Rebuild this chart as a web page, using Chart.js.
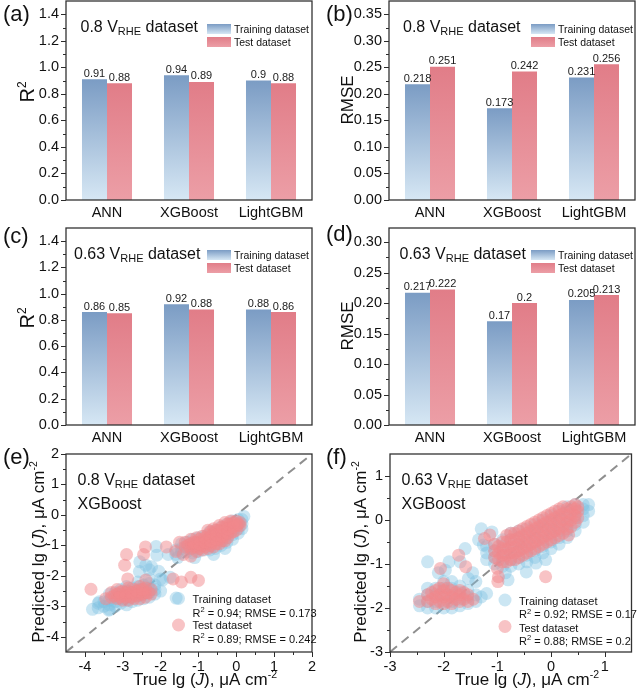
<!DOCTYPE html>
<html><head><meta charset="utf-8">
<script src="https://cdn.jsdelivr.net/npm/chart.js@4.4.0/dist/chart.umd.min.js"></script>
<style>
html,body{margin:0;padding:0;background:#fff;width:638px;height:692px;overflow:hidden}
canvas{position:absolute;left:0;top:0}
</style></head><body>
<canvas id="ca" width="638" height="692"></canvas>
<canvas id="cb" width="638" height="692"></canvas>
<canvas id="cc" width="638" height="692"></canvas>
<canvas id="cd" width="638" height="692"></canvas>
<canvas id="ce" width="638" height="692"></canvas>
<canvas id="cf" width="638" height="692"></canvas>
<script>
// ---------------- DATA ----------------
const models = ['ANN', 'XGBoost', 'LightGBM'];
const r2Train08 = [0.91, 0.94, 0.9];
const r2Test08 = [0.88, 0.89, 0.88];
const rmseTrain08 = [0.218, 0.173, 0.231];
const rmseTest08 = [0.251, 0.242, 0.256];
const r2Train063 = [0.86, 0.92, 0.88];
const r2Test063 = [0.85, 0.88, 0.86];
const rmseTrain063 = [0.217, 0.17, 0.205];
const rmseTest063 = [0.222, 0.2, 0.213];

const r2Ticks = [0, 0.2, 0.4, 0.6, 0.8, 1.0, 1.2, 1.4];
const rmseTicks08 = [0, 0.05, 0.10, 0.15, 0.20, 0.25, 0.30, 0.35];
const rmseTicks063 = [0, 0.05, 0.10, 0.15, 0.20, 0.25, 0.30];
const scatterTicks08 = [-4, -3, -2, -1, 0, 1, 2];
const scatterTicks063 = [-3, -2, -1, 0, 1];

const trainPts08 = [
 [-1.6,-1.3],[-1.6,-1.15],
 [-1.45,-1.25],[-1.45,-1.1],[-1.45,-0.95],
 [-1.3,-1.2],[-1.3,-1.05],[-1.3,-0.9],
 [-1.15,-1.25],[-1.15,-1.1],[-1.15,-0.95],[-1.15,-0.8],
 [-1.0,-1.2],[-1.0,-1.05],[-1.0,-0.9],[-1.0,-0.75],
 [-0.85,-1.15],[-0.85,-1.0],[-0.85,-0.85],[-0.85,-0.7],
 [-0.7,-1.15],[-0.7,-1.0],[-0.7,-0.85],[-0.7,-0.7],[-0.7,-0.55],
 [-0.55,-1.1],[-0.55,-0.95],[-0.55,-0.8],[-0.55,-0.65],[-0.55,-0.5],
 [-0.4,-1.0],[-0.4,-0.85],[-0.4,-0.7],[-0.4,-0.55],[-0.4,-0.4],
 [-0.25,-0.9],[-0.25,-0.75],[-0.25,-0.6],[-0.25,-0.45],[-0.25,-0.3],
 [-0.1,-0.8],[-0.1,-0.65],[-0.1,-0.5],[-0.1,-0.35],[-0.1,-0.2],
 [0.05,-0.6],[0.05,-0.45],[0.05,-0.3],[0.05,-0.15],
 [0.15,-0.45],[0.15,-0.3],[0.15,-0.15],
 [-0.3,-1.1],[-0.6,-1.3],[-1.1,-1.4],[0.2,-0.05],[-1.8,-1.3],[-1.55,-1.4],
 [-2.12,-1.04],[-2.39,-1.65],[-2.3,-1.8],[-2.56,-1.86],[-2.24,-1.7],[-2.55,-1.54],
 [-2.1,-1.32],[-1.95,-2.14],[-2.0,-2.5],[-1.59,-2.73],[-1.75,-2.05],[-2.05,-1.85],
 [-3.65,-3.05],[-3.65,-2.9],
 [-3.5,-3.0],[-3.5,-2.85],
 [-3.35,-3.1],[-3.35,-2.95],[-3.35,-2.8],[-3.35,-2.6],
 [-3.2,-3.0],[-3.2,-2.85],[-3.2,-2.7],[-3.2,-2.55],
 [-3.05,-2.9],[-3.05,-2.75],[-3.05,-2.6],[-3.05,-2.45],
 [-2.9,-2.95],[-2.9,-2.8],[-2.9,-2.65],[-2.9,-2.5],[-2.9,-2.35],
 [-2.75,-2.85],[-2.75,-2.7],[-2.75,-2.55],[-2.75,-2.4],
 [-2.6,-2.8],[-2.6,-2.65],[-2.6,-2.5],[-2.6,-2.35],[-2.6,-2.2],
 [-2.45,-2.75],[-2.45,-2.6],[-2.45,-2.45],[-2.45,-2.3],
 [-2.3,-2.7],[-2.3,-2.55],[-2.3,-2.4],[-2.3,-2.25],[-2.3,-2.1],
 [-2.15,-2.6],[-2.15,-2.45],[-2.15,-2.3],
 [-3.37,-3.13],[-3.62,-2.85],[-3.8,-3.1],[-2.0,-2.1]
];
const testPts08 = [
 [-1.35,-1.05],[-1.35,-0.9],
 [-1.2,-1.1],[-1.2,-0.95],[-1.2,-0.8],
 [-1.05,-1.2],[-1.05,-1.05],[-1.05,-0.9],[-1.05,-0.75],
 [-0.9,-1.15],[-0.9,-1.0],[-0.9,-0.85],[-0.9,-0.7],
 [-0.75,-1.1],[-0.75,-0.95],[-0.75,-0.8],[-0.75,-0.65],[-0.75,-0.5],
 [-0.6,-1.05],[-0.6,-0.9],[-0.6,-0.75],[-0.6,-0.6],[-0.6,-0.45],
 [-0.45,-0.95],[-0.45,-0.8],[-0.45,-0.65],[-0.45,-0.5],[-0.45,-0.35],
 [-0.3,-0.85],[-0.3,-0.7],[-0.3,-0.55],[-0.3,-0.4],[-0.3,-0.25],
 [-0.15,-0.6],[-0.15,-0.45],[-0.15,-0.3],[-0.15,-0.2],
 [0.0,-0.5],[0.0,-0.35],[0.0,-0.2],
 [0.1,-0.35],[0.1,-0.25],
 [-1.275,-1.0],[-1.125,-1.05],[-1.125,-0.9],[-0.975,-1.1],[-0.975,-0.95],[-0.975,-0.8],
 [-0.825,-1.05],[-0.825,-0.9],[-0.825,-0.75],[-0.675,-1.0],[-0.675,-0.85],[-0.675,-0.7],[-0.675,-0.55],
 [-0.525,-0.95],[-0.525,-0.8],[-0.525,-0.65],[-0.525,-0.5],[-0.375,-0.85],[-0.375,-0.7],[-0.375,-0.55],[-0.375,-0.4],
 [-0.225,-0.75],[-0.225,-0.6],[-0.225,-0.45],[-0.225,-0.3],[-0.075,-0.55],[-0.075,-0.4],[-0.075,-0.25],[0.05,-0.3],
 [-1.85,-1.05],[-1.6,-1.2],[-1.5,-0.9],[-1.4,-1.3],[-1.2,-1.35],
 [-2.9,-1.3],[-2.45,-1.3],[-2.95,-1.65],[-2.4,-1.05],[-2.39,-2.14],[-2.87,-2.1],
 [-1.67,-2.1],[-1.45,-2.2],[-1.2,-2.05],[-1.0,-2.15],[-3.84,-2.44],
 [-3.3,-2.7],[-3.3,-2.55],
 [-3.15,-2.75],[-3.15,-2.6],[-3.15,-2.45],
 [-3.0,-2.8],[-3.0,-2.65],[-3.0,-2.5],
 [-2.85,-2.8],[-2.85,-2.65],[-2.85,-2.5],[-2.85,-2.4],
 [-2.7,-2.75],[-2.7,-2.6],[-2.7,-2.45],
 [-2.55,-2.75],[-2.55,-2.6],[-2.55,-2.45],[-2.55,-2.35],
 [-2.4,-2.7],[-2.4,-2.55],[-2.4,-2.4],
 [-2.25,-2.6],[-2.25,-2.45],
 [-3.225,-2.65],[-3.075,-2.7],[-3.075,-2.55],[-2.925,-2.7],[-2.925,-2.55],[-2.775,-2.7],[-2.775,-2.55],
 [-2.625,-2.65],[-2.625,-2.5],[-2.475,-2.6],[-2.475,-2.45],[-2.325,-2.55],
 [-3.45,-2.75]
];
const trainPts063 = [
 [-1.2,-0.9],[-1.2,-0.75],[-1.2,-0.6],
 [-1.05,-1.0],[-1.05,-0.85],[-1.05,-0.7],[-1.05,-0.55],
 [-0.9,-1.05],[-0.9,-0.9],[-0.9,-0.75],[-0.9,-0.6],[-0.9,-0.45],
 [-0.75,-1.05],[-0.75,-0.9],[-0.75,-0.75],[-0.75,-0.6],[-0.75,-0.45],[-0.75,-0.3],
 [-0.6,-1.0],[-0.6,-0.85],[-0.6,-0.7],[-0.6,-0.55],[-0.6,-0.4],[-0.6,-0.25],
 [-0.45,-0.95],[-0.45,-0.8],[-0.45,-0.65],[-0.45,-0.5],[-0.45,-0.35],[-0.45,-0.2],
 [-0.3,-0.85],[-0.3,-0.7],[-0.3,-0.55],[-0.3,-0.4],[-0.3,-0.25],[-0.3,-0.1],
 [-0.15,-0.75],[-0.15,-0.6],[-0.15,-0.45],[-0.15,-0.3],[-0.15,-0.15],[-0.15,0.0],
 [0.0,-0.65],[0.0,-0.5],[0.0,-0.35],[0.0,-0.2],[0.0,-0.05],[0.0,0.1],
 [0.15,-0.55],[0.15,-0.4],[0.15,-0.25],[0.15,-0.1],[0.15,0.05],[0.15,0.2],
 [0.3,-0.4],[0.3,-0.25],[0.3,-0.1],[0.3,0.05],[0.3,0.2],[0.3,0.3],
 [0.45,-0.25],[0.45,-0.1],[0.45,0.05],[0.45,0.2],[0.45,0.35],
 [0.6,-0.05],[0.6,0.1],[0.6,0.25],[0.6,0.35],
 [0.7,0.2],[0.7,0.35],
 [-2.3,-0.95],[-1.97,-1.14],[-1.69,-0.95],[-1.54,-1.33],[-1.26,-0.57],[-1.2,-1.67],
 [-0.85,-1.2],[-0.28,-0.98],[-1.1,-0.27],[-1.35,-0.45],[-1.46,-1.2],[-0.46,-1.18],
 [-0.8,-1.36],[-1.9,-0.95],[-1.6,-0.65],[-2.1,-1.2],[-1.4,-1.4],[-0.1,-0.9],[-1.3,-0.2],
 [-2.45,-1.95],[-2.45,-1.8],
 [-2.3,-2.0],[-2.3,-1.85],[-2.3,-1.7],[-2.3,-1.55],
 [-2.15,-2.0],[-2.15,-1.85],[-2.15,-1.7],[-2.15,-1.55],
 [-2.0,-2.0],[-2.0,-1.85],[-2.0,-1.7],[-2.0,-1.55],[-2.0,-1.4],
 [-1.85,-2.0],[-1.85,-1.85],[-1.85,-1.7],[-1.85,-1.55],[-1.85,-1.4],
 [-1.7,-1.95],[-1.7,-1.8],[-1.7,-1.65],[-1.7,-1.5],
 [-1.55,-1.9],[-1.55,-1.75],[-1.55,-1.6],
 [-1.4,-1.85],[-1.4,-1.7],
 [-1.3,-1.75]
];
const testPts063 = [
 [-1.05,-0.85],[-1.05,-0.7],[-1.05,-0.55],
 [-0.9,-0.95],[-0.9,-0.8],[-0.9,-0.65],[-0.9,-0.5],
 [-0.75,-0.9],[-0.75,-0.75],[-0.75,-0.6],[-0.75,-0.45],[-0.75,-0.3],
 [-0.6,-0.85],[-0.6,-0.7],[-0.6,-0.55],[-0.6,-0.4],[-0.6,-0.25],
 [-0.45,-0.75],[-0.45,-0.6],[-0.45,-0.45],[-0.45,-0.3],[-0.45,-0.15],
 [-0.3,-0.65],[-0.3,-0.5],[-0.3,-0.35],[-0.3,-0.2],[-0.3,-0.05],
 [-0.15,-0.55],[-0.15,-0.4],[-0.15,-0.25],[-0.15,-0.1],[-0.15,0.05],
 [0.0,-0.45],[0.0,-0.3],[0.0,-0.15],[0.0,0.0],[0.0,0.15],
 [0.15,-0.35],[0.15,-0.2],[0.15,-0.05],[0.15,0.1],[0.15,0.25],
 [0.3,-0.2],[0.3,-0.05],[0.3,0.1],[0.3,0.25],
 [0.45,-0.05],[0.45,0.1],[0.45,0.25],[0.45,0.35],
 [-0.975,-0.9],[-0.975,-0.75],[-0.975,-0.6],
 [-0.825,-0.95],[-0.825,-0.8],[-0.825,-0.65],[-0.825,-0.5],[-0.825,-0.35],
 [-0.675,-0.9],[-0.675,-0.75],[-0.675,-0.6],[-0.675,-0.45],[-0.675,-0.3],
 [-0.525,-0.8],[-0.525,-0.65],[-0.525,-0.5],[-0.525,-0.35],[-0.525,-0.2],
 [-0.375,-0.7],[-0.375,-0.55],[-0.375,-0.4],[-0.375,-0.25],[-0.375,-0.1],
 [-0.225,-0.6],[-0.225,-0.45],[-0.225,-0.3],[-0.225,-0.15],[-0.225,0.0],
 [-0.075,-0.5],[-0.075,-0.35],[-0.075,-0.2],[-0.075,-0.05],[-0.075,0.1],
 [0.075,-0.4],[0.075,-0.25],[0.075,-0.1],[0.075,0.05],[0.075,0.2],
 [0.225,-0.3],[0.225,-0.15],[0.225,0.0],[0.225,0.15],[0.225,0.3],
 [0.375,-0.15],[0.375,0.0],[0.375,0.15],[0.375,0.3],
 [0.5,0.05],[0.5,0.2],[0.5,0.3],
 [-1.14,-0.34],[-1.72,-0.8],[-1.59,-1.06],[-0.99,-1.4],[-0.98,-1.29],[0.33,-0.34],
 [-0.1,-1.29],[-1.24,-0.42],[-2.06,-1.1],[-1.0,-1.1],
 [-2.3,-1.85],[-2.3,-1.7],
 [-2.15,-1.9],[-2.15,-1.75],[-2.15,-1.6],
 [-2.0,-1.9],[-2.0,-1.75],[-2.0,-1.6],[-2.0,-1.45],
 [-1.85,-1.9],[-1.85,-1.75],[-1.85,-1.6],
 [-1.7,-1.85],[-1.7,-1.7],[-1.7,-1.6],
 [-1.55,-1.85],[-1.55,-1.7],
 [-2.225,-1.8],[-2.225,-1.65],[-2.075,-1.85],[-2.075,-1.7],[-2.075,-1.55],
 [-1.925,-1.85],[-1.925,-1.7],[-1.925,-1.55],[-1.775,-1.8],[-1.775,-1.65],
 [-1.625,-1.8],[-1.625,-1.65],
 [-2.45,-1.85],[-1.45,-1.8]
];

// ---------------- STYLE / LAYOUT ----------------
const FONT = '"Liberation Sans", Arial, Helvetica, sans-serif';
const W = 638, H = 692;
const TICKCOL = '#2b2b2b';
const TRAIN_TOP = '#7b9cc4', TRAIN_BOT = '#d6e7f4';
const TEST_TOP = '#e17d88', TEST_BOT = '#ec9ea6';
const TRAIN_PT = 'rgba(125,192,225,0.40)';
const TEST_PT = 'rgba(242,135,140,0.50)';

const deco = {};

function fnt(p) { return (p.italic ? 'italic ' : '') + p.size + 'px ' + FONT; }
function richWidth(ctx, parts) {
  let w = 0;
  for (const p of parts) { ctx.font = fnt(p); w += ctx.measureText(p.t).width; }
  return w;
}
function drawRich(ctx, parts, x, y, align) {
  let cx = align === 'center' ? x - richWidth(ctx, parts) / 2 : x;
  ctx.textAlign = 'left';
  ctx.textBaseline = 'alphabetic';
  for (const p of parts) {
    ctx.font = fnt(p);
    ctx.fillText(p.t, cx, y + (p.dy || 0));
    cx += ctx.measureText(p.t).width;
  }
}
function drawRotated(ctx, parts, cx, cy, size) {
  ctx.save();
  ctx.translate(cx, cy);
  ctx.rotate(-Math.PI / 2);
  drawRich(ctx, parts, 0, size * 0.36, 'center');
  ctx.restore();
}
function vTitle(v) {
  return [{t: v + ' V', size: 16}, {t: 'RHE', size: 11, dy: 3.5}, {t: ' dataset', size: 16}];
}

const decoPlugin = {
  id: 'deco',
  beforeDatasetsDraw(chart) {
    const d = deco[chart.canvas.id];
    if (!d || !d.diag) return;
    const ctx = chart.ctx, xs = chart.scales.x, ys = chart.scales.y;
    const a = d.diag[0], b = d.diag[1];
    ctx.save();
    ctx.beginPath();
    ctx.rect(chart.chartArea.left, chart.chartArea.top, chart.chartArea.width, chart.chartArea.height);
    ctx.clip();
    ctx.strokeStyle = '#8f8f8f';
    ctx.lineWidth = 2;
    ctx.setLineDash([9, 6]);
    ctx.beginPath();
    ctx.moveTo(xs.getPixelForValue(a), ys.getPixelForValue(a));
    ctx.lineTo(xs.getPixelForValue(b), ys.getPixelForValue(b));
    ctx.stroke();
    ctx.restore();
  },
  afterDatasetsDraw(chart) {
    const d = deco[chart.canvas.id];
    if (!d || !d.barLabels) return;
    const ctx = chart.ctx;
    ctx.save();
    ctx.fillStyle = '#1a1a1a';
    ctx.font = '11px ' + FONT;
    ctx.textAlign = 'center';
    ctx.textBaseline = 'alphabetic';
    chart.data.datasets.forEach((ds, di) => {
      const meta = chart.getDatasetMeta(di);
      meta.data.forEach((el, i) => {
        ctx.fillText(String(ds.data[i]), el.x, el.y - 2.5);
      });
    });
    ctx.restore();
  },
  afterDraw(chart) {
    const d = deco[chart.canvas.id];
    if (!d) return;
    const ctx = chart.ctx, A = chart.chartArea, xs = chart.scales.x, ys = chart.scales.y;
    ctx.save();
    ctx.strokeStyle = TICKCOL;
    ctx.lineWidth = 1;
    ctx.beginPath();
    const yT = d.yTicks;
    for (let i = 0; i < yT.length; i++) {
      const py = Math.round(ys.getPixelForValue(yT[i])) + 0.5;
      ctx.moveTo(A.left - 5, py); ctx.lineTo(A.left, py);
      if (i < yT.length - 1 || d.yMinorAfter) {
        const mv = i < yT.length - 1 ? (yT[i] + yT[i + 1]) / 2 : yT[i] + (yT[1] - yT[0]) / 2;
        const pm = Math.round(ys.getPixelForValue(mv)) + 0.5;
        if (pm > A.top + 1) { ctx.moveTo(A.left - 3, pm); ctx.lineTo(A.left, pm); }
      }
    }
    if (d.xTicks) {
      const xT = d.xTicks;
      for (let i = 0; i < xT.length; i++) {
        const px = Math.round(xs.getPixelForValue(xT[i])) + 0.5;
        ctx.moveTo(px, A.bottom); ctx.lineTo(px, A.bottom + 5);
        if (i < xT.length - 1 || d.xMinorAfter) {
          const mv = i < xT.length - 1 ? (xT[i] + xT[i + 1]) / 2 : xT[i] + (xT[1] - xT[0]) / 2;
          const pm = Math.round(xs.getPixelForValue(mv)) + 0.5;
          if (pm < A.right - 1) { ctx.moveTo(pm, A.bottom); ctx.lineTo(pm, A.bottom + 3); }
        }
      }
      if (d.xMinorBefore) {
        const mv = xT[0] - (xT[1] - xT[0]) / 2;
        const pm = Math.round(xs.getPixelForValue(mv)) + 0.5;
        if (pm > A.left + 1) { ctx.moveTo(pm, A.bottom); ctx.lineTo(pm, A.bottom + 3); }
      }
    }
    if (d.yMinorBefore) {
      const mv = yT[0] - (yT[1] - yT[0]) / 2;
      const pm = Math.round(ys.getPixelForValue(mv)) + 0.5;
      if (pm < A.bottom - 1) { ctx.moveTo(A.left - 3, pm); ctx.lineTo(A.left, pm); }
    }
    ctx.stroke();
    ctx.strokeStyle = '#333';
    ctx.lineWidth = 1.3;
    ctx.strokeRect(A.left, A.top, A.right - A.left, A.bottom - A.top);
    ctx.fillStyle = '#111';
    ctx.font = '22px ' + FONT;
    ctx.textAlign = 'left';
    ctx.textBaseline = 'middle';
    ctx.fillText(d.panel[0], d.panel[1], d.panel[2]);
    for (const t of d.texts) drawRich(ctx, t.parts, t.x, t.y, 'left');
    drawRotated(ctx, d.yTitle.parts, d.yTitle.x, d.yTitle.y, d.yTitle.size);
    if (d.xTitle) drawRich(ctx, d.xTitle.parts, d.xTitle.x, d.xTitle.y, 'center');
    if (d.barLegend) {
      const L = d.barLegend;
      let g = ctx.createLinearGradient(0, L.y1, 0, L.y1 + 10);
      g.addColorStop(0, TRAIN_TOP); g.addColorStop(1, TRAIN_BOT);
      ctx.fillStyle = g;
      ctx.fillRect(L.x, L.y1, 24, 10);
      g = ctx.createLinearGradient(0, L.y2, 0, L.y2 + 10);
      g.addColorStop(0, TEST_TOP); g.addColorStop(1, TEST_BOT);
      ctx.fillStyle = g;
      ctx.fillRect(L.x, L.y2, 24, 10);
      ctx.fillStyle = '#111';
      drawRich(ctx, [{t: 'Training dataset', size: 10.5}], L.x + 27, L.y1 + 9, 'left');
      drawRich(ctx, [{t: 'Test dataset', size: 10.5}], L.x + 27, L.y2 + 9, 'left');
    }
    if (d.ptLegend) {
      const L = d.ptLegend;
      ctx.fillStyle = TRAIN_PT;
      ctx.beginPath(); ctx.arc(L.mx, L.my1, 6.5, 0, Math.PI * 2); ctx.fill();
      ctx.fillStyle = TEST_PT;
      ctx.beginPath(); ctx.arc(L.mx, L.my2, 6.5, 0, Math.PI * 2); ctx.fill();
      ctx.fillStyle = '#111';
      const s = 11;
      drawRich(ctx, [{t: 'Training dataset', size: s}], L.tx, L.b[0], 'left');
      drawRich(ctx, [{t: 'R', size: s}, {t: '2', size: 7.5, dy: -4.5}, {t: ' = ' + L.s1, size: s}], L.tx, L.b[1], 'left');
      drawRich(ctx, [{t: 'Test dataset', size: s}], L.tx, L.b[2], 'left');
      drawRich(ctx, [{t: 'R', size: s}, {t: '2', size: 7.5, dy: -4.5}, {t: ' = ' + L.s2, size: s}], L.tx, L.b[3], 'left');
    }
    ctx.restore();
  }
};
Chart.register(decoPlugin);

function gradFill(top, bot) {
  return function (c) {
    const chart = c.chart, area = chart.chartArea;
    if (!area || c.raw === undefined || c.type !== 'data') return top;
    const yTop = chart.scales.y.getPixelForValue(c.raw);
    const g = chart.ctx.createLinearGradient(0, yTop, 0, area.bottom);
    g.addColorStop(0, top); g.addColorStop(1, bot);
    return g;
  };
}

function fixY(width) {
  return function (s) { s.width = width; s.paddingTop = 0; s.paddingBottom = 0; };
}
function fixX(height) {
  return function (s) { s.height = height; s.paddingLeft = 0; s.paddingRight = 0; };
}

function barChart(id, train, test, yMax, ticks, dec, area) {
  const YW = 50, XH = 30;
  new Chart(document.getElementById(id), {
    type: 'bar',
    data: {
      labels: models,
      datasets: [
        {label: 'Training dataset', data: train, backgroundColor: gradFill(TRAIN_TOP, TRAIN_BOT), borderWidth: 0,
         categoryPercentage: 0.61, barPercentage: 1.0},
        {label: 'Test dataset', data: test, backgroundColor: gradFill(TEST_TOP, TEST_BOT), borderWidth: 0,
         categoryPercentage: 0.61, barPercentage: 1.0}
      ]
    },
    options: {
      responsive: false, animation: false,
      layout: {padding: {left: area.l - YW, top: area.t, right: W - area.r, bottom: H - area.b - XH}},
      plugins: {legend: {display: false}, tooltip: {enabled: false}},
      scales: {
        x: {
          grid: {display: false, drawTicks: false}, border: {display: false},
          ticks: {font: {family: FONT, size: 14.5}, color: '#111', padding: 4},
          afterFit: fixX(XH)
        },
        y: {
          min: 0, max: yMax,
          grid: {display: false, drawTicks: false}, border: {display: false},
          ticks: {font: {family: FONT, size: 14.5}, color: '#111', padding: 7,
                  callback: (v) => Number(v).toFixed(dec)},
          afterBuildTicks: (s) => { s.ticks = ticks.map(v => ({value: v})); },
          afterFit: fixY(YW)
        }
      }
    }
  });
}

function scatterChart(id, train, test, lo, hi, ticks, area) {
  const YW = 50, XH = 25;
  new Chart(document.getElementById(id), {
    type: 'scatter',
    data: {
      datasets: [
        {label: 'Training dataset', data: train.map(p => ({x: p[0], y: p[1]})), order: 2,
         backgroundColor: TRAIN_PT, borderWidth: 0, pointRadius: 6.5, pointHoverRadius: 6.5},
        {label: 'Test dataset', data: test.map(p => ({x: p[0], y: p[1]})), order: 1,
         backgroundColor: TEST_PT, borderWidth: 0, pointRadius: 6.5, pointHoverRadius: 6.5}
      ]
    },
    options: {
      responsive: false, animation: false,
      layout: {padding: {left: area.l - YW, top: area.t, right: W - area.r, bottom: H - area.b - XH}},
      plugins: {legend: {display: false}, tooltip: {enabled: false}},
      scales: {
        x: {
          type: 'linear', min: lo, max: hi,
          grid: {display: false, drawTicks: false}, border: {display: false},
          ticks: {font: {family: FONT, size: 14.5}, color: '#111', padding: 6, callback: (v) => String(v)},
          afterBuildTicks: (s) => { s.ticks = ticks.map(v => ({value: v})); },
          afterFit: fixX(XH)
        },
        y: {
          type: 'linear', min: lo, max: hi,
          grid: {display: false, drawTicks: false}, border: {display: false},
          ticks: {font: {family: FONT, size: 14.5}, color: '#111', padding: 7, callback: (v) => String(v)},
          afterBuildTicks: (s) => { s.ticks = ticks.map(v => ({value: v})); },
          afterFit: fixY(YW)
        }
      }
    }
  });
}

const r2Title = {parts: [{t: 'R', size: 20}, {t: '2', size: 12, dy: -8}], size: 20};
const rmseTitle = {parts: [{t: 'RMSE', size: 17}], size: 17};
function predTitle(x, y) {
  return {parts: [{t: 'Predicted lg (', size: 17}, {t: 'J', size: 17, italic: true}, {t: '), \u03bcA cm', size: 17}, {t: '-2', size: 10.5, dy: -7}], x: x, y: y, size: 17};
}
function trueTitle(x, y) {
  return {parts: [{t: 'True lg (', size: 17}, {t: 'J', size: 17, italic: true}, {t: '), \u03bcA cm', size: 17}, {t: '-2', size: 10.5, dy: -7}], x: x, y: y};
}

deco.ca = {panel: ['(a)', 3, 15], yTicks: r2Ticks, texts: [{parts: vTitle('0.8'), x: 80.5, y: 31.5}],
  yTitle: Object.assign({x: 27, y: 92}, r2Title), barLabels: true, barLegend: {x: 207, y1: 24, y2: 37}};
deco.cb = {panel: ['(b)', 326, 15], yTicks: rmseTicks08, texts: [{parts: vTitle('0.8'), x: 403, y: 31.5}],
  yTitle: Object.assign({x: 347, y: 100}, rmseTitle), barLabels: true, barLegend: {x: 531, y1: 24, y2: 37}};
deco.cc = {panel: ['(c)', 3, 237], yTicks: r2Ticks, texts: [{parts: vTitle('0.63'), x: 74, y: 258.5}],
  yTitle: Object.assign({x: 27, y: 318}, r2Title), barLabels: true, barLegend: {x: 207, y1: 250, y2: 263}};
deco.cd = {panel: ['(d)', 326, 235], yTicks: rmseTicks063, texts: [{parts: vTitle('0.63'), x: 399.5, y: 258.5}],
  yTitle: Object.assign({x: 347, y: 326}, rmseTitle), barLabels: true, barLegend: {x: 531, y1: 250, y2: 263}};
deco.ce = {panel: ['(e)', 3, 458], yTicks: scatterTicks08, xTicks: scatterTicks08, diag: [-4.5, 2],
  yMinorBefore: true, xMinorBefore: true,
  texts: [{parts: vTitle('0.8'), x: 77.5, y: 484.5}, {parts: [{t: 'XGBoost', size: 16}], x: 77.5, y: 509}],
  yTitle: predTitle(38, 552), xTitle: trueTitle(205, 685),
  ptLegend: {mx: 178.5, my1: 598.5, my2: 625, tx: 192.5, b: [603, 616.5, 629, 642.5], s1: '0.94; RMSE = 0.173', s2: '0.89; RMSE = 0.242'}};
deco.cf = {panel: ['(f)', 326, 458], yTicks: scatterTicks063, xTicks: scatterTicks063, diag: [-3, 1.5],
  yMinorAfter: true, xMinorAfter: true,
  texts: [{parts: vTitle('0.63'), x: 401.5, y: 484.5}, {parts: [{t: 'XGBoost', size: 16}], x: 401.5, y: 509}],
  yTitle: predTitle(360, 552), xTitle: trueTitle(527, 685),
  ptLegend: {mx: 505, my1: 600, my2: 626.5, tx: 519, b: [604.5, 618, 631.5, 644.5], s1: '0.92; RMSE = 0.17', s2: '0.88; RMSE = 0.2'}};

barChart('ca', r2Train08, r2Test08, 1.5, r2Ticks, 1, {l: 66, t: 1, r: 312, b: 200});
barChart('cb', rmseTrain08, rmseTest08, 0.375, rmseTicks08, 2, {l: 389, t: 1, r: 635, b: 200});
barChart('cc', r2Train063, r2Test063, 1.5, r2Ticks, 1, {l: 66, t: 228, r: 312, b: 425});
barChart('cd', rmseTrain063, rmseTest063, 0.323, rmseTicks063, 2, {l: 389, t: 228, r: 635, b: 425});
scatterChart('ce', trainPts08, testPts08, -4.5, 2, scatterTicks08, {l: 66, t: 454, r: 312, b: 652});
scatterChart('cf', trainPts063, testPts063, -3, 1.5, scatterTicks063, {l: 390, t: 454, r: 635, b: 652});
</script>
</body></html>
